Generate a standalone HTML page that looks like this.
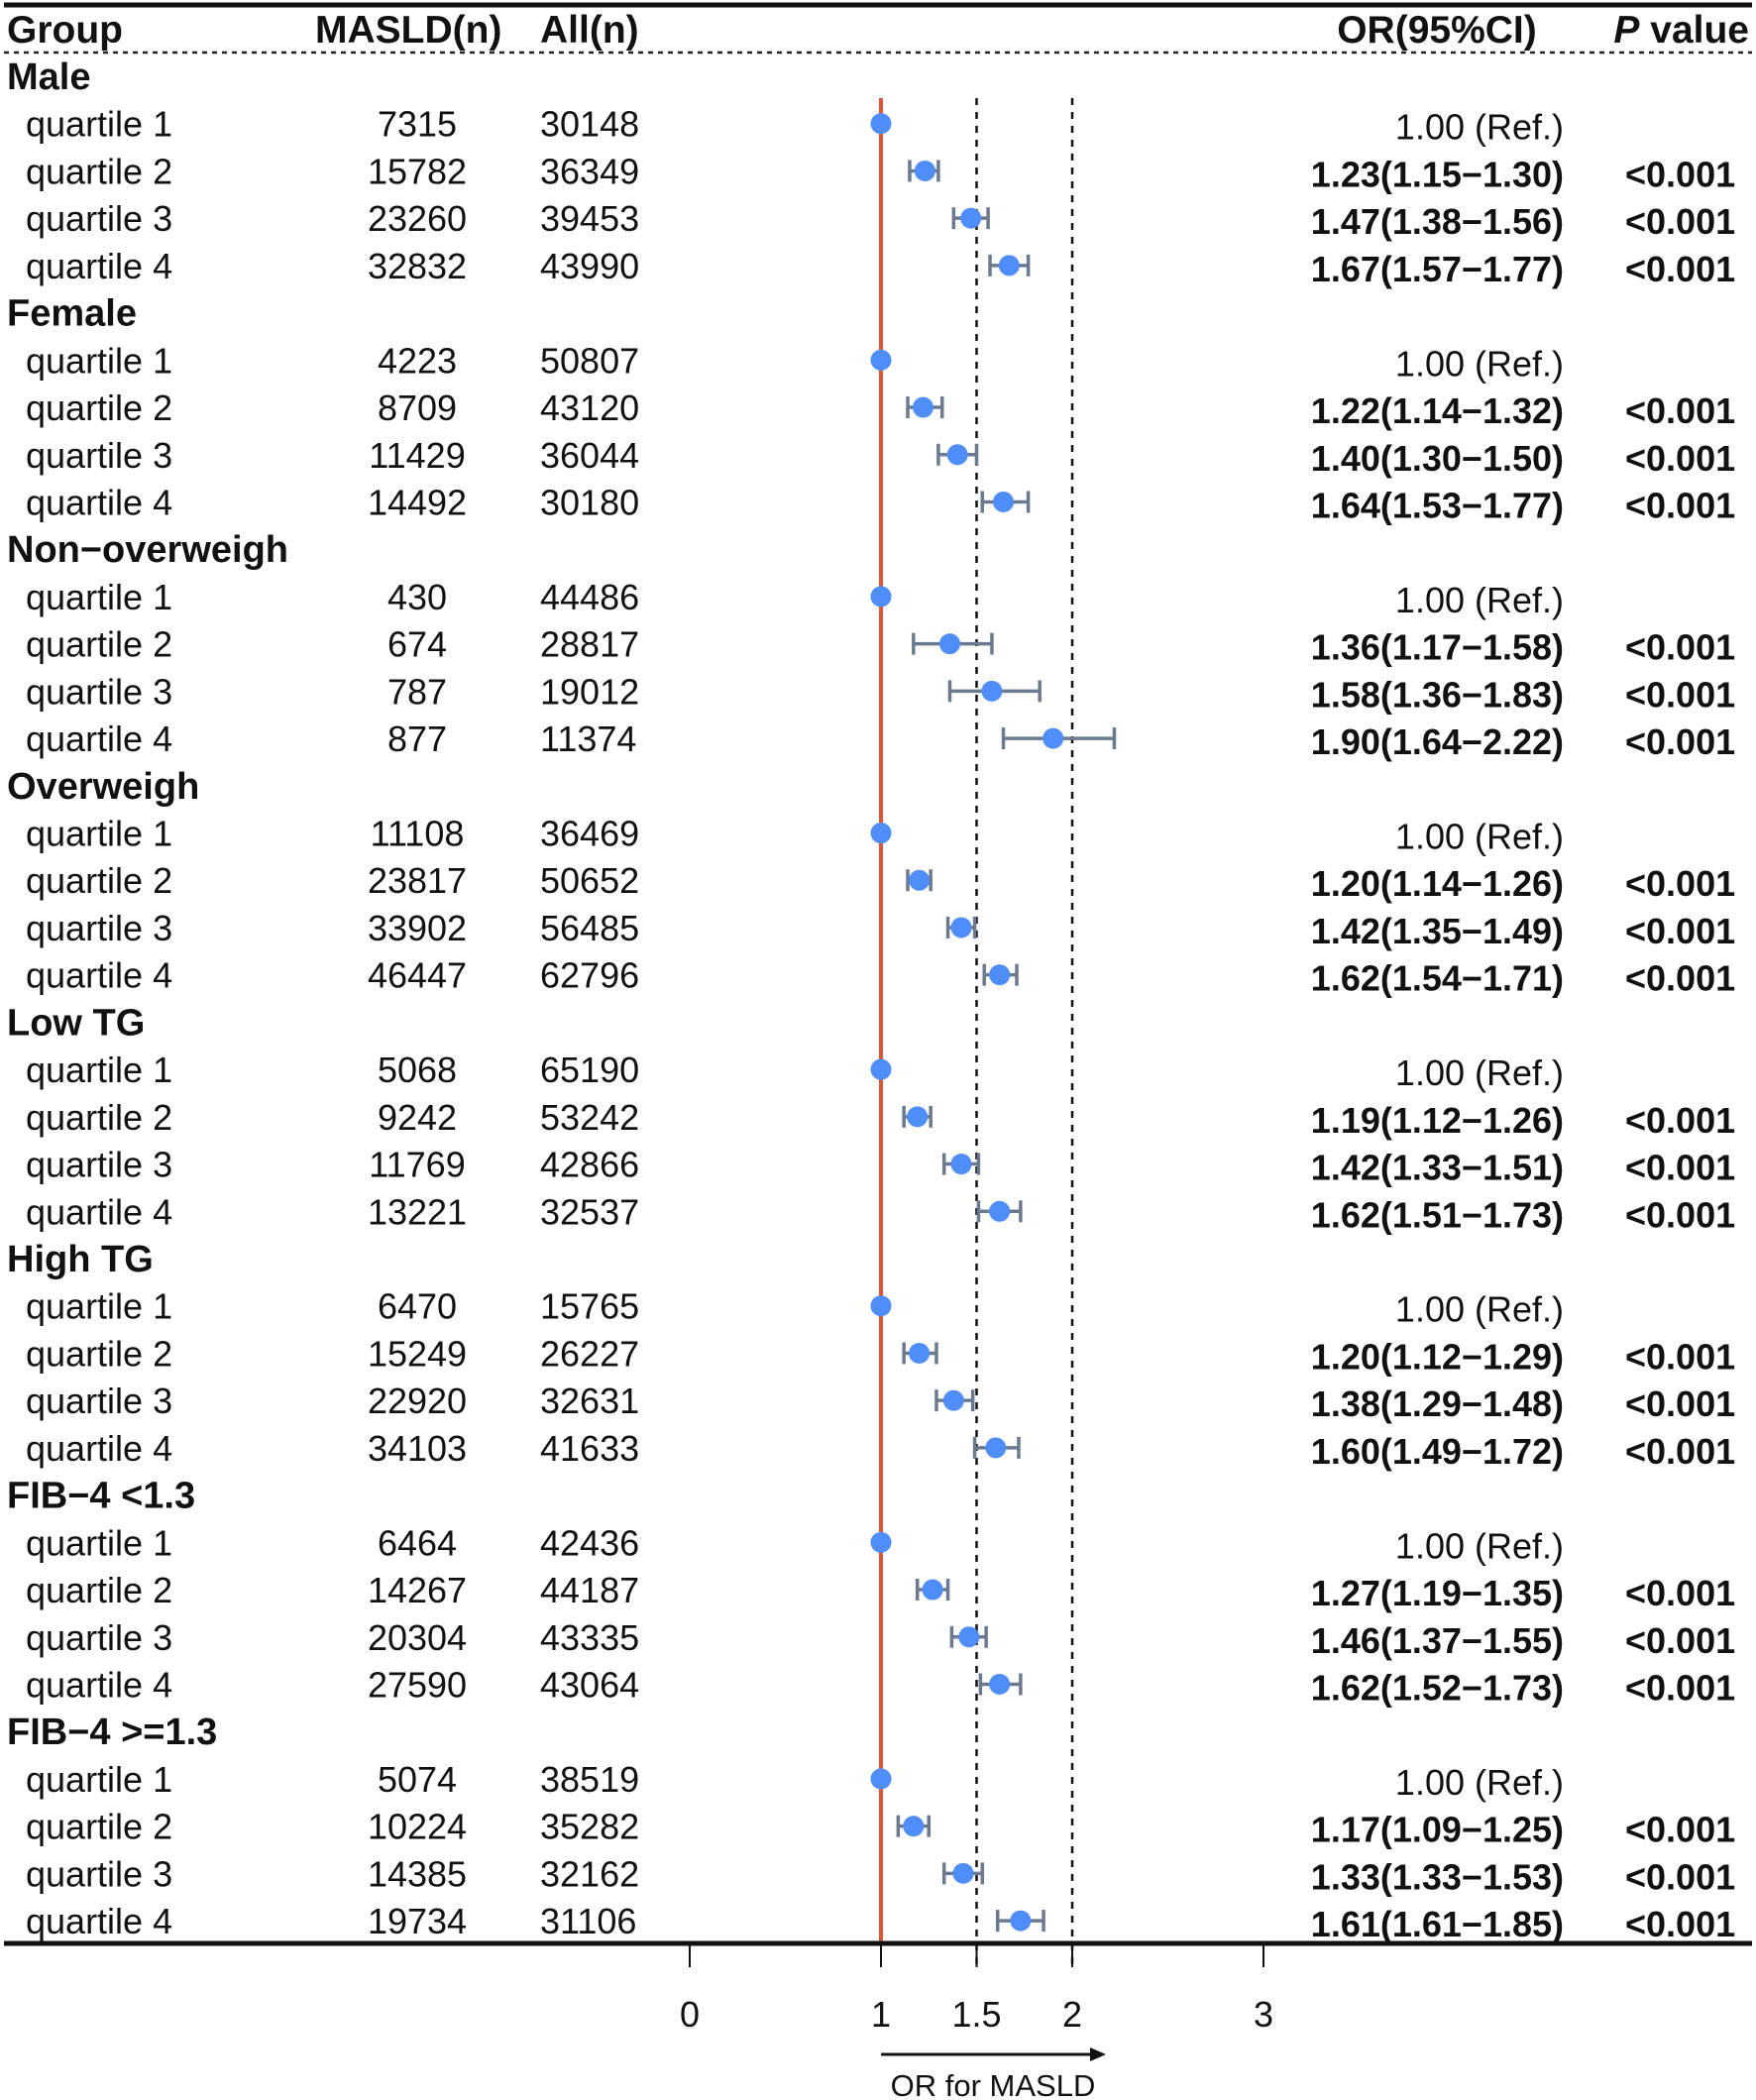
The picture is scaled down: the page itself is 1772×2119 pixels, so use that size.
<!DOCTYPE html>
<html><head><meta charset="utf-8">
<style>
html,body{margin:0;padding:0;background:#fff;}
svg{display:block;font-family:"Liberation Sans",Arial,sans-serif;}
</style></head>
<body>
<svg id="chart" width="1772" height="2119" viewBox="0 0 1772 2119">
</svg>
<script>
const groups = ["Male","Female","Non−overweigh","Overweigh","Low TG","High TG","FIB−4 <1.3","FIB−4 >=1.3"];
const masld = [[7315,15782,23260,32832],[4223,8709,11429,14492],[430,674,787,877],[11108,23817,33902,46447],[5068,9242,11769,13221],[6470,15249,22920,34103],[6464,14267,20304,27590],[5074,10224,14385,19734]];
const alln = [[30148,36349,39453,43990],[50807,43120,36044,30180],[44486,28817,19012,11374],[36469,50652,56485,62796],[65190,53242,42866,32537],[15765,26227,32631,41633],[42436,44187,43335,43064],[38519,35282,32162,31106]];
const orv = [[1,1.23,1.47,1.67],[1,1.22,1.40,1.64],[1,1.36,1.58,1.90],[1,1.20,1.42,1.62],[1,1.19,1.42,1.62],[1,1.20,1.38,1.60],[1,1.27,1.46,1.62],[1,1.17,1.43,1.73]];
const orPrinted = [[1,1.23,1.47,1.67],[1,1.22,1.40,1.64],[1,1.36,1.58,1.90],[1,1.20,1.42,1.62],[1,1.19,1.42,1.62],[1,1.20,1.38,1.60],[1,1.27,1.46,1.62],[1,1.17,1.33,1.61]];
const lo = [[1,1.15,1.38,1.57],[1,1.14,1.30,1.53],[1,1.17,1.36,1.64],[1,1.14,1.35,1.54],[1,1.12,1.33,1.51],[1,1.12,1.29,1.49],[1,1.19,1.37,1.52],[1,1.09,1.33,1.61]];
const hi = [[1,1.30,1.56,1.77],[1,1.32,1.50,1.77],[1,1.58,1.83,2.22],[1,1.26,1.49,1.71],[1,1.26,1.51,1.73],[1,1.29,1.48,1.72],[1,1.35,1.55,1.73],[1,1.25,1.53,1.85]];
const pvals = ["<0.001","<0.001","<0.001"];
const xTicks = [0,1,1.5,2,3];

const svg = document.getElementById('chart');
const NS = 'http://www.w3.org/2000/svg';
function mk(tag, attrs, txt){const e=document.createElementNS(NS,tag);for(const k in attrs)e.setAttribute(k,attrs[k]);if(txt!==undefined)e.textContent=txt;svg.appendChild(e);return e;}
const xs = v => 889 + 193*(v-1);
const rowY = i => 77 + 47.72*i;
const FS = 36;
const HFS = 39;

let e;
e = mk('line',{x1:4,x2:1768,y1:5,y2:5,stroke:'#111','stroke-width':5});


e = mk('line',{x1:4,x2:1768,y1:53,y2:53,stroke:'#222','stroke-width':2.5,'stroke-dasharray':'5 5'});


const hdr = [["Group",7,'start'],["MASLD(n)",318,'start'],["All(n)",545,'start'],["OR(95%CI)",1450,'middle']];
hdr.forEach(h=>{
  e = mk('text',{x:h[1],y:43,'font-size':HFS,'font-weight':'bold','text-anchor':h[2],fill:'#111'},h[0]);
  
  
});
e = mk('text',{x:1765,y:43,'font-size':HFS,'font-weight':'bold',fill:'#111','text-anchor':'end'});
e.innerHTML='<tspan font-style="italic">P</tspan> value';



e = mk('line',{x1:xs(1.5),x2:xs(1.5),y1:99,y2:1985,stroke:'#111','stroke-width':2.5,'stroke-dasharray':'7 7'});


e = mk('line',{x1:xs(2),x2:xs(2),y1:99,y2:1985,stroke:'#111','stroke-width':2.5,'stroke-dasharray':'7 7'});


e = mk('line',{x1:xs(1),x2:xs(1),y1:99,y2:1962,stroke:'#e0553a','stroke-width':4});



groups.forEach((g,gi)=>{
  const gy = rowY(gi*5);
  e = mk('text',{x:7,y:gy+13,'font-size':HFS-1,'font-weight':'bold',fill:'#111'},g);
  
  
  for(let q=0;q<4;q++){
    const y = rowY(gi*5+q+1);
    const ty = y+13;
    e = mk('text',{x:26,y:ty,'font-size':FS,fill:'#111'},'quartile '+(q+1));
    
    
    e = mk('text',{x:421,y:ty,'font-size':FS,fill:'#111','text-anchor':'middle'},String(masld[gi][q]));
    
    
    e = mk('text',{x:545,y:ty,'font-size':FS,fill:'#111'},String(alln[gi][q]));
    
    
    if(q===0){
      e = mk('text',{x:1578,y:ty+3,'font-size':FS,fill:'#111','text-anchor':'end'},'1.00 (Ref.)');
      
      
    } else {
      const f=v=>v.toFixed(2);
      e = mk('text',{x:1578,y:ty+3,'font-size':FS,'font-weight':'bold',fill:'#111','text-anchor':'end'},f(orPrinted[gi][q])+'('+f(lo[gi][q])+'−'+f(hi[gi][q])+')');
      
      
      e = mk('text',{x:1640,y:ty+3,'font-size':FS,'font-weight':'bold',fill:'#111'},pvals[0]);
      
      
      const x1=xs(lo[gi][q]), x2=xs(hi[gi][q]);
      e = mk('line',{x1:x1,x2:x2,y1:y,y2:y,stroke:'#6b7a8f','stroke-width':3.5});
      
      
      [x1,x2].forEach(cx=>{
        e = mk('line',{x1:cx,x2:cx,y1:y-11,y2:y+11,stroke:'#6b7a8f','stroke-width':3.5});
        
        
      });
    }
    e = mk('circle',{cx:xs(orv[gi][q]),cy:y,r:10.5,fill:'#4f8df9'});
    
    
  }
});

e = mk('line',{x1:4,x2:1768,y1:1961,y2:1961,stroke:'#111','stroke-width':5});


xTicks.forEach(t=>{
  e = mk('line',{x1:xs(t),x2:xs(t),y1:1961,y2:1985,stroke:'#111','stroke-width':2});
  
  
  e = mk('text',{x:xs(t),y:2045,'font-size':FS,fill:'#111','text-anchor':'middle'},String(t));
  
  
});
e = mk('line',{x1:xs(1),x2:1105,y1:2073,y2:2073,stroke:'#111','stroke-width':3});


e = mk('path',{d:'M1116 2073 L1100 2066 L1100 2080 Z',fill:'#111'});


e = mk('text',{x:1002,y:2115,'font-size':31,fill:'#111','text-anchor':'middle'},'OR for MASLD');


</script>
</body></html>
